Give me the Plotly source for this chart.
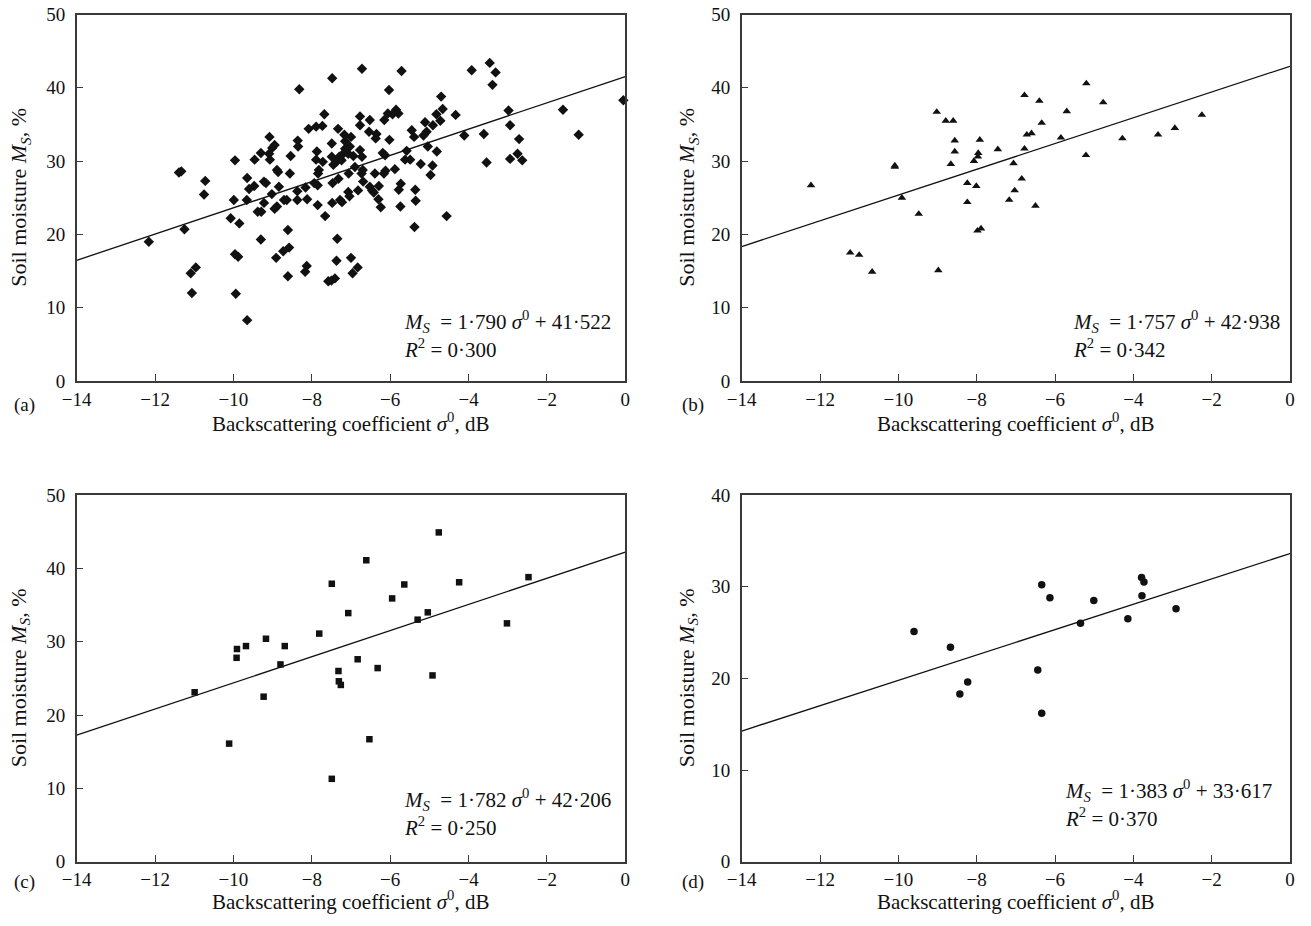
import plotly.graph_objects as go

# ---------------- data ----------------
# Panel (a): diamonds
a_x = [-12.16, -11.39, -11.33, -11.25, -11.09, -10.96, -11.06, -10.72, -10.75, -10.07,
       -9.96, -9.99, -9.96, -9.88, -9.85, -9.94, -9.65, -9.65, -9.66, -9.60,
       -9.47, -9.46, -9.30, -9.08, -9.09, -9.07, -9.01, -8.95, -9.22, -9.17,
       -9.02, -9.22, -9.38, -9.29, -9.30, -8.95, -8.89, -8.84, -8.89, -8.86,
       -8.91, -8.73, -8.58, -8.61, -8.61, -8.71, -8.64, -8.56, -8.54, -8.36,
       -8.35, -8.32, -8.37, -8.37, -8.16, -8.12, -8.13, -8.17, -8.08, -7.89,
       -7.73, -7.68, -7.94, -7.85, -7.87, -7.89, -7.72, -7.82, -7.84, -7.85,
       -7.66, -7.58,
       -7.48, -6.72, -5.71, -6.03, -3.92, -3.46, -3.31, -3.39, -4.70, -4.66,
       -4.82, -4.91, -4.72, -5.11, -5.07, -5.15, -5.45, -5.39, -4.33, -4.11,
       -3.61, -2.98, -2.94, -2.71, -2.75, -2.63, -2.94, -3.54, -1.59, -1.19,
       -0.05, -4.56, -5.04, -4.81, -4.92, -4.97, -5.22, -5.36, -5.35, -5.38,
       -5.58, -5.62, -5.49, -5.73, -5.78, -5.74, -5.88, -6.12, -6.16, -6.19,
       -6.13, -6.02, -6.15, -6.06, -5.94, -5.85, -5.79, -6.29, -6.39, -6.42,
       -6.46, -6.52, -6.30, -6.24, -6.52, -6.77, -6.77, -6.54, -6.35, -6.37,
       -6.77, -6.72, -6.70, -6.73, -6.94, -6.90, -6.69, -7.06, -7.07, -7.32,
       -7.28, -7.23, -7.48, -7.47, -7.37, -7.33, -7.17, -7.00, -7.15, -7.15,
       -7.03, -7.30, -7.20, -7.07, -7.24, -7.49, -7.49, -7.45, -7.04, -6.82,
       -7.35, -7.37, -7.00, -6.96, -6.83, -7.41, -7.50]
a_y = [19.0, 28.45, 28.6, 20.7, 14.7, 15.5, 12.0, 27.3, 25.45, 22.2,
       30.1, 24.7, 17.3, 16.95, 21.5, 11.9, 8.3, 27.7, 24.7, 26.2,
       26.6, 30.2, 31.1, 33.3, 31.0, 30.2, 31.8, 32.2, 27.2, 27.0,
       25.5, 24.3, 23.1, 23.1, 19.3, 23.5, 23.8, 26.5, 28.8, 28.5,
       16.8, 17.7, 18.2, 20.6, 14.3, 24.7, 24.7, 28.3, 30.7, 32.8,
       32.0, 39.8, 25.9, 24.7, 26.4, 24.8, 15.7, 14.9, 34.4, 34.7,
       34.8, 36.4, 27.0, 26.7, 31.3, 30.2, 29.9, 28.8, 28.3, 24.0,
       22.5, 13.6,
       41.3, 42.6, 42.3, 39.7, 42.4, 43.4, 42.1, 40.4, 38.8, 37.1,
       36.4, 34.9, 35.5, 35.3, 34.0, 33.5, 34.2, 33.3, 36.3, 33.5,
       33.7, 36.9, 34.9, 33.0, 31.0, 30.1, 30.3, 29.8, 37.0, 33.6,
       38.3, 22.5, 32.0, 31.3, 29.4, 28.1, 29.6, 26.1, 24.6, 21.0,
       31.4, 30.2, 30.2, 26.9, 26.1, 23.8, 28.9, 28.7, 28.3, 31.1,
       30.8, 32.9, 35.6, 36.5, 36.4, 37.0, 36.5, 26.6, 28.3, 25.7,
       26.0, 26.5, 24.8, 23.7, 35.6, 36.1, 34.9, 34.0, 33.7, 33.1,
       31.5, 30.6, 28.8, 28.3, 30.7, 29.2, 27.2, 28.3, 25.8, 27.6,
       24.7, 24.4, 24.3, 27.0, 29.9, 34.4, 33.6, 33.3, 32.7, 31.7,
       32.0, 30.6, 31.0, 31.0, 30.1, 32.4, 30.6, 29.5, 25.2, 26.0,
       19.4, 16.4, 16.8, 14.7, 15.5, 14.0, 13.7]

# Panel (b): triangles
b_x = [-12.23, -11.23, -11.00, -10.67, -10.09, -10.09, -9.91, -9.48, -9.02, -8.79,
       -8.60, -8.98, -8.56, -8.56, -8.66, -8.24, -8.24, -8.01, -8.07, -7.97,
       -7.96, -7.92, -7.98, -7.89, -7.46, -7.06, -7.17, -7.03, -6.85, -6.78,
       -6.78, -6.72, -6.40, -6.60, -6.34, -6.50, -5.70, -5.85, -5.20, -4.77,
       -5.21, -4.28, -3.37, -2.94, -2.25]
b_y = [26.7, 17.5, 17.2, 14.9, 29.4, 29.2, 25.0, 22.8, 36.7, 35.5,
       35.5, 15.1, 32.8, 31.3, 29.6, 27.0, 24.4, 26.6, 30.0, 30.6,
       31.1, 32.9, 20.5, 20.8, 31.6, 29.7, 24.7, 26.0, 27.6, 39.0,
       31.7, 33.6, 38.2, 33.8, 35.2, 23.9, 36.8, 33.2, 40.6, 38.0,
       30.8, 33.1, 33.6, 34.5, 36.3]

# Panel (c): squares
c_x = [-10.99, -10.11, -9.92, -9.91, -9.68, -9.23, -9.17, -8.80, -8.69, -7.81,
       -7.49, -7.49, -7.32, -7.31, -7.26, -7.07, -6.83, -6.61, -6.53, -6.32,
       -5.95, -5.64, -5.30, -5.04, -4.92, -4.76, -4.24, -3.02, -2.47]
c_y = [23.1, 16.1, 27.8, 29.0, 29.4, 22.5, 30.4, 26.9, 29.4, 31.1,
       37.9, 11.3, 26.0, 24.6, 24.1, 33.9, 27.6, 41.1, 16.7, 26.4,
       35.9, 37.8, 33.0, 34.0, 25.4, 44.9, 38.1, 32.5, 38.8]

# Panel (d): circles
d_x = [-9.60, -8.67, -8.43, -8.23, -6.44, -6.34, -6.34, -6.13, -5.35, -5.01,
       -4.14, -3.79, -3.73, -3.78, -2.91]
d_y = [25.1, 23.4, 18.3, 19.6, 20.9, 16.2, 30.2, 28.8, 26.0, 28.5,
       26.5, 31.0, 30.5, 29.0, 27.6]

# regression fits printed on the panels
slopes = [1.790, 1.757, 1.782, 1.383]
intercepts = [41.522, 42.938, 42.206, 33.617]
eq_text = ["<i>M<sub>S</sub></i>  = 1·790 <i>σ</i><sup>0</sup> + 41·522",
           "<i>M<sub>S</sub></i>  = 1·757 <i>σ</i><sup>0</sup> + 42·938",
           "<i>M<sub>S</sub></i>  = 1·782 <i>σ</i><sup>0</sup> + 42·206",
           "<i>M<sub>S</sub></i>  = 1·383 <i>σ</i><sup>0</sup> + 33·617"]
r2_text = ["<i>R</i><sup>2</sup> = 0·300", "<i>R</i><sup>2</sup> = 0·342",
           "<i>R</i><sup>2</sup> = 0·250", "<i>R</i><sup>2</sup> = 0·370"]
panel_labels = ["(a)", "(b)", "(c)", "(d)"]
x_range = [-14, 0]
x_ticks = [-14, -12, -10, -8, -6, -4, -2, 0]
y_max = [50, 50, 50, 40]
x_title = "Backscattering coefficient <i>σ</i><sup>0</sup>, dB"
y_title = "Soil moisture <i>M<sub>S</sub></i>, %"

# ---------------- layout geometry ----------------
W, H = 1311, 926
FONT = "Liberation Serif, Times New Roman, serif"
INK = "#111111"
AX = "#3a3a3a"

def px(x):
    return x / W

def py(y):
    return 1 - y / H

xdoms = [[px(76.7), px(625.3)], [px(741.7), px(1290)], [px(76.7), px(625.3)], [px(741.7), px(1290)]]
ydoms = [[py(381), py(14.5)], [py(381), py(14.5)], [py(861.7), py(495)], [py(861.7), py(495)]]

fig = go.Figure()
symbols = ["diamond", "triangle-up", "square", "circle"]
sizes = [8, 7.5, 6.5, 7.5]
datasets = [(a_x, a_y), (b_x, b_y), (c_x, c_y), (d_x, d_y)]

for i in range(4):
    xa = "x" if i == 0 else f"x{i+1}"
    ya = "y" if i == 0 else f"y{i+1}"
    xs, ys = datasets[i]
    fig.add_trace(go.Scatter(x=xs, y=ys, mode="markers", xaxis=xa, yaxis=ya,
                             marker=dict(symbol=symbols[i], size=sizes[i], color=INK,
                                         line=dict(width=0)),
                             cliponaxis=False, showlegend=False))
    lx = [x_range[0], x_range[1]]
    ly = [slopes[i] * v + intercepts[i] for v in lx]
    fig.add_trace(go.Scatter(x=lx, y=ly, mode="lines", xaxis=xa, yaxis=ya,
                             line=dict(color=INK, width=1.3), showlegend=False))

    axis_common = dict(showline=True, linecolor=AX, linewidth=1.5, mirror=True,
                       ticks="inside", ticklen=7, tickwidth=1.3, tickcolor=AX,
                       showgrid=False, zeroline=False, automargin=False,
                       tickfont=dict(family=FONT, size=19, color=INK))
    xkey = "xaxis" if i == 0 else f"xaxis{i+1}"
    ykey = "yaxis" if i == 0 else f"yaxis{i+1}"
    fig.update_layout({
        xkey: dict(domain=xdoms[i], range=x_range, tickvals=x_ticks, anchor=ya,
                   ticklabelstandoff=0, **axis_common),
        ykey: dict(domain=ydoms[i], range=[0, y_max[i]], dtick=10, anchor=xa,
                   ticklabelstandoff=6, **axis_common),
    })

# text annotations
ann = []
eq_pos = [(402, 322, 348), (1071, 322, 348), (402, 799, 826), (1063, 790, 817)]
title_y = [422, 422, 900, 900]
plab = [(12, 405), (680, 405), (12, 882), (680, 882)]
for i in range(4):
    ex, ey1, ey2 = eq_pos[i]
    ann.append(dict(x=px(ex), y=py(ey1), xref="paper", yref="paper", text=eq_text[i],
                    showarrow=False, xanchor="left", yanchor="middle",
                    font=dict(family=FONT, size=21, color=INK)))
    ann.append(dict(x=px(ex), y=py(ey2), xref="paper", yref="paper", text=r2_text[i],
                    showarrow=False, xanchor="left", yanchor="middle",
                    font=dict(family=FONT, size=21, color=INK)))
    cx = (xdoms[i][0] + xdoms[i][1]) / 2
    ann.append(dict(x=cx, y=py(title_y[i]), xref="paper", yref="paper", text=x_title,
                    showarrow=False, xanchor="center", yanchor="middle",
                    font=dict(family=FONT, size=21, color=INK)))
    cy = (ydoms[i][0] + ydoms[i][1]) / 2
    tx = 20 if i in (0, 2) else 688
    ann.append(dict(x=px(tx), y=cy, xref="paper", yref="paper", text=y_title,
                    showarrow=False, textangle=-90, xanchor="center", yanchor="middle",
                    font=dict(family=FONT, size=22, color=INK)))
    ann.append(dict(x=px(plab[i][0]), y=py(plab[i][1]), xref="paper", yref="paper",
                    text=panel_labels[i], showarrow=False, xanchor="left", yanchor="middle",
                    font=dict(family=FONT, size=19, color=INK)))

fig.update_layout(width=W, height=H, margin=dict(l=0, r=0, t=0, b=0),
                  paper_bgcolor="white", plot_bgcolor="white",
                  annotations=ann, font=dict(family=FONT, color=INK))

fig.write_html("out.html")
